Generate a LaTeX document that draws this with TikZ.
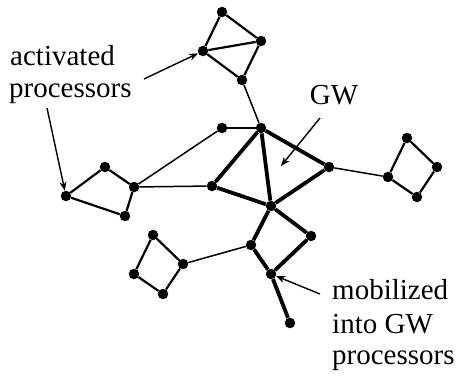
\documentclass[tikz,border=0pt]{standalone}
\usepackage{fontspec}
\setmainfont{Liberation Serif}
\usetikzlibrary{arrows.meta}
\begin{document}
\begin{tikzpicture}[x=1pt,y=-1pt,
  dot/.style={circle,fill=black,inner sep=0pt,minimum size=10.5pt},
  thin edge/.style={line width=1.5pt},
  mid edge/.style={line width=2.2pt},
  thick edge/.style={line width=3.8pt},
  pointer/.style={line width=1.4pt,-{Stealth[length=9pt,width=7pt]}},
  lbl/.style={inner sep=0pt,font=\fontsize{29}{33}\selectfont}]
\useasboundingbox (0,0) rectangle (456,376);

% top cluster
\node[dot] (t1) at (222,12) {};
\node[dot] (t2) at (203,51) {};
\node[dot] (t3) at (261,41) {};
\node[dot] (t4) at (242,80) {};
% central workspace
\node[dot] (h) at (261,128) {};
\node[dot] (s) at (222,128) {};
\node[dot] (l) at (212,186) {};
\node[dot] (r) at (329,167) {};
\node[dot] (c) at (271,206) {};
\node[dot] (d) at (311,236) {};
\node[dot] (e) at (251,245) {};
\node[dot] (f) at (271,274) {};
\node[dot] (g) at (290,323) {};
% left cluster
\node[dot] (a1) at (66,196) {};
\node[dot] (a2) at (105,167) {};
\node[dot] (a3) at (134,187) {};
\node[dot] (a4) at (125,216) {};
% lower-left cluster
\node[dot] (b1) at (153,235) {};
\node[dot] (b2) at (183,264) {};
\node[dot] (b3) at (163,294) {};
\node[dot] (b4) at (134,274) {};
% right cluster
\node[dot] (q1) at (388,177) {};
\node[dot] (q2) at (407,138) {};
\node[dot] (q3) at (437,167) {};
\node[dot] (q4) at (417,197) {};

% cluster edges
\draw[mid edge] (t1) -- (t2) -- (t4) -- (t3) -- (t1) (t2) -- (t3);
\draw[mid edge] (a1) -- (a2) -- (a3) -- (a4) -- (a1);
\draw[mid edge] (b1) -- (b2) -- (b3) -- (b4) -- (b1);
\draw[mid edge] (q1) -- (q2) -- (q3) -- (q4) -- (q1);
% weak links
\draw[thin edge] (t4) -- (h);
\draw[thin edge] (s) -- (h);
\draw[thin edge] (a3) -- (s);
\draw[thin edge] (a3) -- (l);
\draw[thin edge] (r) -- (q1);
\draw[thin edge] (b2) -- (e);
% global workspace links
\draw[thick edge] (h) -- (l) -- (c) -- (r) -- (h) -- (c);
\draw[thick edge] (c) -- (d) -- (f) -- (e) -- (c);
\draw[thick edge] (f) -- (g);

% labels
\node[lbl,anchor=base west] (act1) at (10,65) {activated};
\node[lbl,anchor=base west] (act2) at (9,97) {processors};
\node[lbl,anchor=base] (gw) at (334,104) {GW};
\node[lbl,anchor=base west] (mob1) at (332,299) {mobilized};
\node[lbl,anchor=base west] (mob2) at (332,333) {into GW};
\node[lbl,anchor=base west] (mob3) at (332,364) {processors};

% pointers
\coordinate (pa) at (144,79);
\coordinate (pb) at (47,108);
\coordinate (pg) at (320,118);
\coordinate (pgend) at (281,166);
\coordinate (pm) at (320,294);
\draw[pointer] (pa) -- (t2);
\draw[pointer] (pb) -- (a1);
\draw[pointer] (pg) -- (pgend);
\draw[pointer] (pm) -- (f);
\end{tikzpicture}
\end{document}
